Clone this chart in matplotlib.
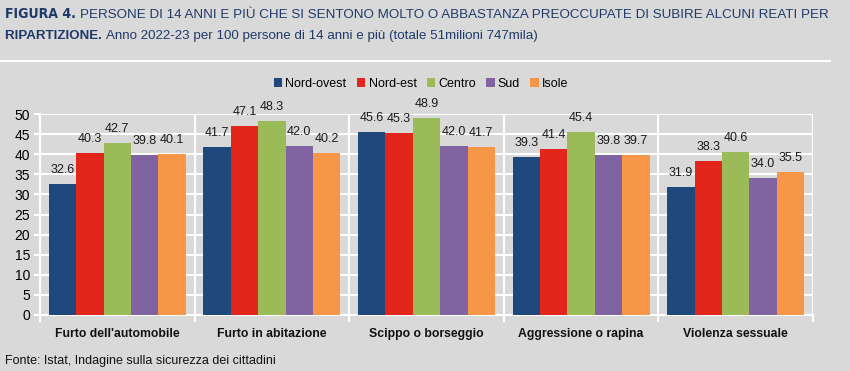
import numpy as np
import matplotlib
matplotlib.use('Agg')
from matplotlib import pyplot as plt
from matplotlib import font_manager
from matplotlib.lines import Line2D

categories = ["Furto dell'automobile", "Furto in abitazione", "Scippo o borseggio",
              "Aggressione o rapina", "Violenza sessuale"]
regions = ["Nord-ovest", "Nord-est", "Centro", "Sud", "Isole"]
nord_ovest = [32.6, 41.7, 45.6, 39.3, 31.9]
nord_est = [40.3, 47.1, 45.3, 41.4, 38.3]
centro = [42.7, 48.3, 48.9, 45.4, 40.6]
sud = [39.8, 42.0, 42.0, 39.8, 34.0]
isole = [40.1, 40.2, 41.7, 39.7, 35.5]
colors = ['#1F497D', '#E3261B', '#9BBB59', '#8064A2', '#F79646']

names = {f.name for f in font_manager.fontManager.ttflist}
narrow = 'Liberation Sans Narrow' if 'Liberation Sans Narrow' in names else 'Liberation Sans'
plt.rcParams['font.family'] = ['Liberation Sans', 'DejaVu Sans']

bg = '#D9D9D9'
navy = '#1F3A68'
fig = plt.figure(figsize=(8.5, 3.71), dpi=100, facecolor=bg)
ax = fig.add_axes([40/850, 1-315/371, 773/850, 201/371])
ax.set_facecolor(bg)

series = [nord_ovest, nord_est, centro, sud, isole]
x = np.arange(len(categories))
w = 0.177
for i, (vals, name, c) in enumerate(zip(series, regions, colors)):
    pos = x + (i - 2) * w
    bars = ax.bar(pos, vals, width=w, color=c, label=name, zorder=3)
    for b, v in zip(bars, vals):
        ax.text(b.get_x() + b.get_width()/2, v + 2.0, f'{v:.1f}', ha='center',
                va='bottom', fontsize=9, color='#1a1a1a', zorder=4)

ax.set_xlim(-0.5, len(categories) - 0.5)
ax.set_ylim(0, 50)
ax.set_yticks(range(0, 51, 5))
ax.yaxis.grid(True, color='white', linewidth=1.5, zorder=0)
for b in np.arange(-0.5, len(categories), 1.0):
    ax.axvline(b, color='white', linewidth=1.5, zorder=1)
ax.set_xticks(np.arange(-0.5, len(categories), 1.0))
ax.set_xticklabels([])
ax.tick_params(axis='x', length=5, color='white', width=1.5)
ax.tick_params(axis='y', length=4, color='white', width=1.5, labelsize=10, pad=3)
for i, cat in enumerate(categories):
    ax.text(i, -3.2, cat, ha='center', va='top', fontsize=8.8, fontweight='bold',
            color='#111111')
for s in ['top', 'right']:
    ax.spines[s].set_visible(False)
for s in ['left', 'bottom']:
    ax.spines[s].set_color('white')
    ax.spines[s].set_linewidth(1.5)

fig.legend(loc='center', bbox_to_anchor=(421/850, 1-84/371), ncol=5, frameon=False,
           fontsize=9, handlelength=0.7, handleheight=0.7, handletextpad=0.25,
           columnspacing=0.8)

# white frame line above chart
fig.add_artist(Line2D([0, 830/850], [1-61/371, 1-61/371], color='white', linewidth=1.5,
                      transform=fig.transFigure))

fig.canvas.draw()
renderer = fig.canvas.get_renderer()

def place(parts, y, scale=1.0):
    xpos = 5/850
    arts = []
    for txt, kw in parts:
        kw = dict(kw)
        kw['fontsize'] = kw['fontsize'] * scale
        t = fig.text(xpos, y, txt, color=navy, va='baseline', fontstretch='condensed', **kw)
        bb = t.get_window_extent(renderer=renderer)
        xpos = bb.x1 / fig.bbox.width
        arts.append(t)
    return arts, xpos * fig.bbox.width

line1 = [('FIGURA 4. ', dict(fontsize=11, fontweight='bold', family='DejaVu Sans')),
         ('PERSONE DI 14 ANNI E PIÙ CHE SI SENTONO MOLTO O ABBASTANZA PREOCCUPATE DI SUBIRE ALCUNI REATI PER',
          dict(fontsize=10.5, family=narrow))]
line2 = [('RIPARTIZIONE. ', dict(fontsize=10.5, fontweight='bold', family=narrow)),
         ('Anno 2022-23 per 100 persone di 14 anni e più (totale 51milioni 747mila)',
          dict(fontsize=10.5, family=narrow))]

arts, right = place(line1, 1-18/371)
scale = (832 - 5) / (right - 5)
for a in arts:
    a.remove()
place(line1, 1-18/371, scale)
place(line2, 1-39/371, scale)

fig.text(5/850, 1-364/371, 'Fonte: Istat, Indagine sulla sicurezza dei cittadini',
         fontsize=9, color='#111111', va='baseline')

fig.savefig('out.png', dpi=100, facecolor=bg)
